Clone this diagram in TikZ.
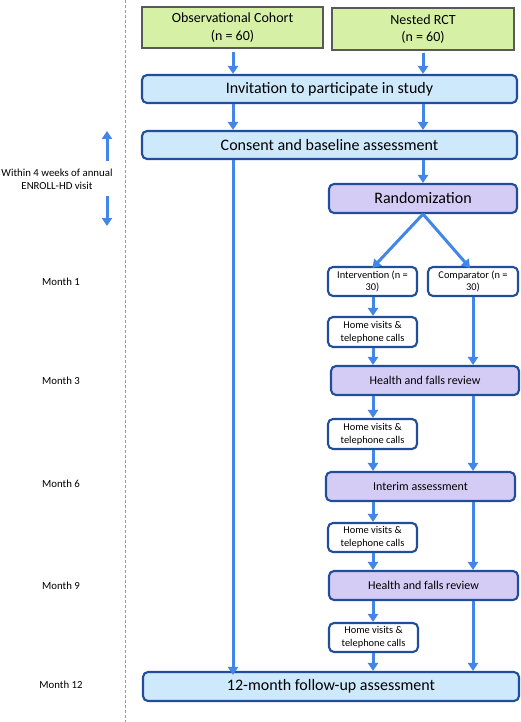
\documentclass[tikz,border=0pt]{standalone}
\usepackage{fontspec}
\setmainfont{Carlito}
\usetikzlibrary{arrows.meta}
\definecolor{arrblue}{RGB}{66,135,232}
\definecolor{bordblue}{RGB}{32,78,156}
\definecolor{lblue}{RGB}{206,233,251}
\definecolor{lpurple}{RGB}{213,204,246}
\definecolor{lgreen}{RGB}{214,240,166}
\definecolor{dashblue}{RGB}{120,160,215}
\begin{document}
\begin{tikzpicture}[x=1pt,y=-1pt,
  arr/.style={draw=arrblue,line width=3pt,-{Triangle[length=8pt,width=10pt]}},
  greenbox/.style={draw=black!65,line width=1.1pt,fill=lgreen,align=center,font=\fontsize{14}{17.7}\selectfont,inner sep=0pt},
  bluebox/.style={draw=bordblue,line width=2.1pt,fill=lblue,rounded corners=5pt,inner sep=0pt,font=\fontsize{16}{19}\selectfont},
  purplebox/.style={draw=bordblue,line width=2.1pt,fill=lpurple,rounded corners=5pt,inner sep=0pt},
  whitebox/.style={draw=bordblue,line width=2.1pt,fill=white,rounded corners=5pt,inner sep=0pt,align=center,font=\fontsize{10.4}{12.8}\selectfont},
  lab/.style={align=center,font=\fontsize{10.8}{13}\selectfont,inner sep=0pt}]
\useasboundingbox (0,0) rectangle (520,722);
\fill[white] (0,0) rectangle (520,722);
% dashed separator
\draw[dashblue,line width=0.9pt,dash pattern=on 3pt off 2pt] (125,0) -- (125,722);
% top boxes
\node[greenbox,minimum width=181pt,minimum height=41pt] (obs) at (232.5,27.5) {Observational Cohort\\(n = 60)};
\node[greenbox,minimum width=182pt,minimum height=42pt] (rct) at (423,29) {Nested RCT\\(n = 60)};
\node[bluebox,minimum width=375pt,minimum height=28pt] (inv) at (329.5,89) {Invitation to participate in study};
\node[bluebox,minimum width=375pt,minimum height=28pt] (cons) at (329.5,145) {Consent and baseline assessment};
\node[purplebox,minimum width=188pt,minimum height=29pt,font=\fontsize{16}{19}\selectfont] (rand) at (423,198.5) {Randomization};
\node[whitebox,minimum width=89pt,minimum height=29pt] (int) at (372.5,281.5) {Intervention (n =\\30)};
\node[whitebox,minimum width=90pt,minimum height=29pt] (comp) at (473,281.5) {Comparator (n =\\30)};
\node[whitebox,minimum width=89pt,minimum height=30pt] (h1) at (372.5,332) {Home visits \&\\telephone calls};
\node[purplebox,minimum width=188pt,minimum height=29pt,font=\fontsize{12}{14}\selectfont] (rev1) at (425,380.5) {Health and falls review};
\node[whitebox,minimum width=89pt,minimum height=30pt] (h2) at (372.5,434) {Home visits \&\\telephone calls};
\node[purplebox,minimum width=189pt,minimum height=29pt,font=\fontsize{12}{14}\selectfont] (interim) at (420.5,486.5) {Interim assessment};
\node[whitebox,minimum width=89pt,minimum height=29pt] (h3) at (372.5,537.5) {Home visits \&\\telephone calls};
\node[purplebox,minimum width=189pt,minimum height=29pt,font=\fontsize{12}{14}\selectfont] (rev2) at (423.5,585.5) {Health and falls review};
\node[whitebox,minimum width=89pt,minimum height=29pt] (h4) at (373.5,637.5) {Home visits \&\\telephone calls};
\node[bluebox,minimum width=376pt,minimum height=29pt] (fu) at (331,686.5) {12-month follow-up assessment};
% left labels
\node[lab] (win) at (57,179.5) {Within 4 weeks of annual\\ENROLL-HD visit};
\coordinate (upTop) at (107,131);
\coordinate (upBot) at (107,161);
\coordinate (dnTop) at (107,196);
\coordinate (dnBot) at (107,226);
\draw[arr] (upBot) -- (upTop);
\draw[arr] (dnTop) -- (dnBot);
\node[lab] (m1) at (61,282) {Month 1};
\node[lab] (m3) at (61,381) {Month 3};
\node[lab] (m6) at (61,484) {Month 6};
\node[lab] (m9) at (61,586) {Month 9};
\node[lab] (m12) at (61,685) {Month 12};
% arrows
\draw[arr] (obs.south -| 233,0) ++(0,3) -- (inv.north -| 233,0);
\draw[arr] (rct.south -| 423,0) ++(0,2) -- (inv.north -| 423,0);
\draw[arr] (inv.south -| 233,0) -- (cons.north -| 233,0);
\draw[arr] (inv.south -| 423,0) -- (cons.north -| 423,0);
\draw[arr] (cons.south -| 233,0) -- ([yshift=-4pt]fu.north -| 233,0);
\draw[arr] (cons.south -| 423,0) -- (rand.north -| 423,0);
\draw[arr] (rand.south -| 423,0) -- ([yshift=-2pt]int.north);
\draw[arr] (rand.south -| 423,0) -- ([yshift=-2pt]comp.north -| 470,0);
\draw[arr] (int.south -| 373,0) -- (h1.north -| 373,0);
\draw[arr] (h1.south -| 373,0) -- (rev1.north -| 373,0);
\draw[arr] (comp.south -| 473,0) -- (rev1.north -| 473,0);
\draw[arr] (rev1.south -| 373,0) -- (h2.north -| 373,0);
\draw[arr] (h2.south -| 373,0) -- (interim.north -| 373,0);
\draw[arr] (rev1.south -| 473,0) -- (interim.north -| 473,0);
\draw[arr] (interim.south -| 373,0) -- (h3.north -| 373,0);
\draw[arr] (interim.south -| 473,0) -- (rev2.north -| 473,0);
\draw[arr] (h3.south -| 373,0) -- (rev2.north -| 373,0);
\draw[arr] (rev2.south -| 373,0) -- (h4.north -| 373,0);
\draw[arr] (h4.south -| 373,0) -- (fu.north -| 373,0);
\draw[arr] (rev2.south -| 473,0) -- (fu.north -| 473,0);
\end{tikzpicture}
\end{document}
